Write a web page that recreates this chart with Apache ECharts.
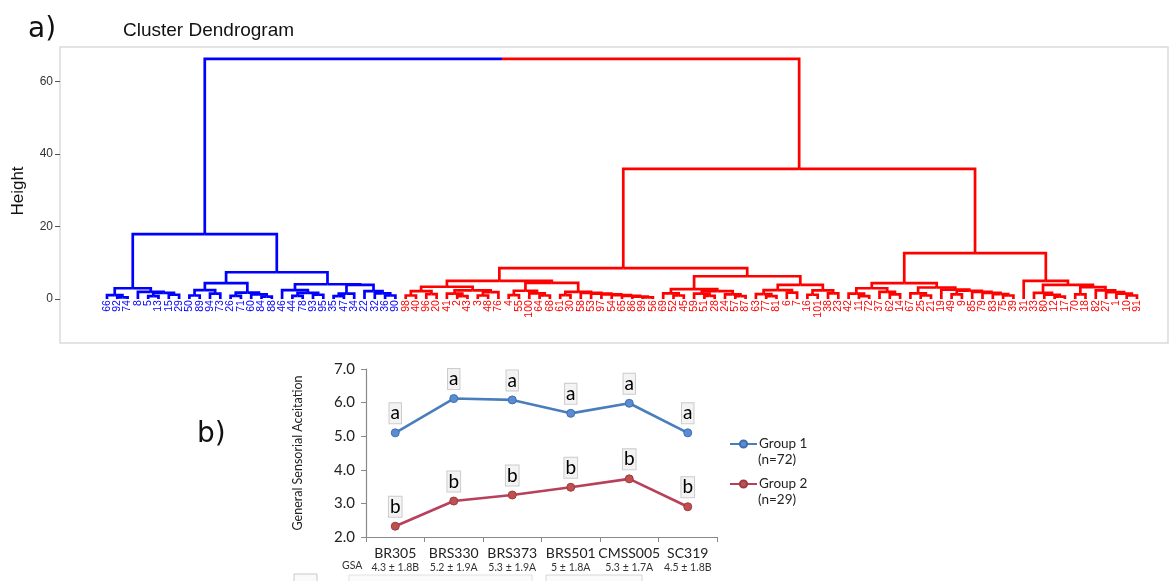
<!DOCTYPE html>
<html><head><meta charset="utf-8">
<script src="https://cdn.jsdelivr.net/npm/echarts@6/dist/echarts.min.js"></script>
<style>html,body{margin:0;padding:0;background:#fff}#c{width:1170px;height:581px}</style>
</head><body><div id="c"></div>
<script>
// ---------- a) dendrogram data: node = [mergeHeight, left, right], leaf = label ----------
const blueTree = [17.9,
  [3.0, [1.1,'66',[0.5,'92','74']], [2.0,'8',[1.7,[0.8,'5','13'],[1.2,'15','29']]]],
  [7.4,
    [4.4, [2.5,[1.0,'50','89'],[1.5,'94','73']], [1.8,[0.9,'26','71'],[1.3,'60',[0.7,'84','88']]]],
    [4.1, [2.5,'46',[1.7,[0.9,'44','78'],[1.2,'93','95']]],
          [3.9,[1.5,[0.8,'35','47'],'34'],[2.2,'22',[1.6,'32',[1.0,'36','90']]]]]]];
const redTree = [35.9,
  [8.55,
    [5.05,
      [3.4, [2.2,[1.0,'98','40'],[1.4,'96','20']], [2.4,[1.5,'41',[0.8,'2','43']],[1.9,[1.0,'3','48'],'76']]],
      [4.5, [2.3,[1.1,'4','55'],[1.6,'100',[1.0,'64','68']]],
            [2.0,[1.1,'61','30'],[1.7,'58',[1.5,'53',[1.3,'97',[1.1,'54',[0.9,'65',[0.7,'86',[0.5,'99','56']]]]]]]]]],
    [6.3,
      [2.75,[1.6,'69',[1.0,'52','45']],[2.2,[1.5,'59',[0.9,'51','28']],[1.3,'24',[0.8,'57','87']]]],
      [3.9,[2.5,[1.4,'63',[0.8,'77','81']],[1.8,'6','7']],[2.4,[1.2,'16','101'],[1.6,'38','23']]]]],
  [12.7,
    [4.4, [3.0,[1.5,'42',[0.8,'11','72']],[2.0,'37',[1.3,'62','14']]],
          [3.2,[1.6,'67',[1.0,'25','21']],[2.6,'19',[2.3,[1.3,'49','9'],[2.0,'85',[1.7,'79',[1.4,'83',[1.0,'75','39']]]]]]]],
    [5.0,'31',[3.9,[1.7,'33',[1.2,'80',[0.7,'12','17']]],[3.3,[1.3,'70','18'],[2.4,'82',[1.9,'27',[1.5,'1',[1.0,'10','91']]]]]]]]];
const rootHeight = 66.2;
const heightTicks = [0, 20, 40, 60];

// ---------- b) line chart data ----------
const categories = ['BR305','BRS330','BRS373','BRS501','CMSS005','SC319'];
const gsaLabels = ['4.3 ± 1.8B','5.2 ± 1.9A','5.3 ± 1.9A','5 ± 1.8A','5.3 ± 1.7A','4.5 ± 1.8B'];
const group1 = [5.10, 6.12, 6.08, 5.68, 5.98, 5.10];
const group2 = [2.32, 3.07, 3.25, 3.48, 3.73, 2.90];
const letters1 = ['a','a','a','a','a','a'];
const letters2 = ['b','b','b','b','b','b'];
const legendNotes = ['(n=72)','(n=29)'];

// ---------- dendrogram layout (leaf order from tree traversal) ----------
const COLS = ['#0000FF', '#FF0000'];
const leaves = [], links = [];
function lay(node, c) {
  if (typeof node === 'string') { const i = leaves.length; leaves.push({label: node, c: c}); return {x: i, h: 0}; }
  const a = lay(node[1], c), b = lay(node[2], c);
  links.push([a.x, a.h, b.x, b.h, node[0], c, c]);
  return {x: (a.x + b.x) / 2, h: node[0]};
}
const bRoot = lay(blueTree, 0), rRoot = lay(redTree, 1);
links.push([bRoot.x, bRoot.h, rRoot.x, rRoot.h, rootHeight, 0, 1]);
const N = leaves.length;
// axis extent so first leaf sits at 107px and last at 1137px inside grid 60..1168
const firstPx = 107, lastPx = 1137, gL = 60, gR = 1168;
const unit = (lastPx - firstPx) / (N - 1);
const xMin = -(firstPx - gL) / unit, xMax = (N - 1) + (gR - lastPx) / unit;

function renderLink(params, api) {
  const p1 = api.coord([api.value(0), api.value(1)]);
  const t1 = api.coord([api.value(0), api.value(4)]);
  const t2 = api.coord([api.value(2), api.value(4)]);
  const p2 = api.coord([api.value(2), api.value(3)]);
  const mx = (t1[0] + t2[0]) / 2;
  const cl = COLS[api.value(5)], cr = COLS[api.value(6)];
  return {type: 'group', children: [
    {type: 'polyline', shape: {points: [p1, t1, [mx, t1[1]]]}, style: {stroke: cl, lineWidth: 2.7, fill: null}},
    {type: 'polyline', shape: {points: [[mx, t2[1]], t2, p2]}, style: {stroke: cr, lineWidth: 2.7, fill: null}}
  ]};
}
function renderLeaf(params, api) {
  const p = api.coord([api.value(0), api.value(1)]);
  const lf = leaves[params.dataIndex];
  return {type: 'text', x: p[0], y: p[1] + 1, rotation: Math.PI / 2,
    style: {text: lf.label, fill: COLS[lf.c], font: '10.5px "Liberation Sans", Arial', align: 'right', verticalAlign: 'middle'}};
}

const chart = echarts.init(document.getElementById('c'), null, {renderer: 'canvas'});
const F = 'Lato, "Liberation Sans", sans-serif';
const letterLabel = {show: true, position: 'top', distance: 5,
  fontSize: 19, fontFamily: F, color: '#000', backgroundColor: '#f3f3f3', borderColor: '#cccccc', borderWidth: 1,
  padding: [0, 1, 0, 1], lineHeight: 20};
chart.setOption({
  animation: false,
  backgroundColor: '#ffffff',
  grid: [
    {left: 60, right: 2, top: 47, bottom: 238, show: true, borderColor: '#dadada', borderWidth: 1.5},
    {left: 366, width: 351, top: 369, height: 168}
  ],
  xAxis: [
    {gridIndex: 0, type: 'value', min: xMin, max: xMax, show: false},
    {gridIndex: 1, type: 'category', data: categories, boundaryGap: true,
     axisLine: {lineStyle: {color: '#8a8a8a', width: 1.2}},
     axisTick: {show: true, length: 5, lineStyle: {color: '#8a8a8a'}},
     axisLabel: {margin: 8, interval: 0,
       formatter: function (v, i) { return '{a|' + v + '}\n{b|' + gsaLabels[i] + '}'; },
       rich: {a: {fontSize: 14, fontFamily: F, color: '#222', lineHeight: 16},
              b: {fontSize: 10.5, fontFamily: F, color: '#333', lineHeight: 14}}}}
  ],
  yAxis: [
    {gridIndex: 0, type: 'value', min: -12.1, max: 69.5,
     axisLine: {show: false, onZero: false}, splitLine: {show: false},
     axisTick: {show: true, length: 5, customValues: heightTicks, lineStyle: {color: '#555'}},
     axisLabel: {customValues: heightTicks, fontSize: 12, color: '#333', margin: 7, fontFamily: '"Liberation Sans", Arial'}},
    {gridIndex: 1, type: 'value', min: 2, max: 7, interval: 1,
     name: 'General Sensorial Aceitation', nameLocation: 'middle', nameGap: 62, nameRotate: 90,
     nameTextStyle: {fontSize: 12.5, fontFamily: F, color: '#222'},
     axisLine: {show: true, onZero: false, lineStyle: {color: '#8a8a8a', width: 1.2}},
     axisTick: {show: true, length: 5, lineStyle: {color: '#8a8a8a'}},
     splitLine: {show: false},
     axisLabel: {fontSize: 15, fontFamily: F, color: '#222', margin: 11, formatter: function (v) { return v.toFixed(1); }}}
  ],
  legend: {
    data: ['Group 1', 'Group 2'], orient: 'vertical', left: 724, top: 432, itemGap: 26,
    itemWidth: 27, itemHeight: 9, textStyle: {fontSize: 13.5, fontFamily: F, color: '#222', padding: [0, 0, 0, -3]}
  },
  graphic: [
    {type: 'text', left: 28, top: 16, style: {text: 'a)', font: '28px "DejaVu Sans"', fill: '#111'}},
    {type: 'text', left: 123, top: 21, style: {text: 'Cluster Dendrogram', font: '19px "Liberation Sans", Arial', fill: '#111'}},
    {type: 'text', x: 18, y: 191, rotation: Math.PI / 2, style: {text: 'Height', font: '17px "Liberation Sans", Arial', fill: '#111', align: 'center', verticalAlign: 'middle'}},
    {type: 'text', left: 197, top: 421, style: {text: 'b)', font: '28px "DejaVu Sans"', fill: '#111'}},
    {type: 'text', left: 342, top: 560, style: {text: 'GSA', font: '10.5px Lato', fill: '#333'}},
    {type: 'text', left: 758, top: 453, style: {text: legendNotes[0], font: '13.5px Lato', fill: '#222'}},
    {type: 'text', left: 758, top: 493, style: {text: legendNotes[1], font: '13.5px Lato', fill: '#222'}},
    {type: 'rect', shape: {x: 294, y: 574, width: 23, height: 14}, style: {fill: '#fafafa', stroke: '#c8c8c8', lineWidth: 1}},
    {type: 'rect', shape: {x: 349, y: 575, width: 183, height: 14}, style: {fill: '#fbfbfb', stroke: '#e2e2e2', lineWidth: 1}},
    {type: 'rect', shape: {x: 546, y: 575, width: 96, height: 14}, style: {fill: '#fbfbfb', stroke: '#d6d6d6', lineWidth: 1}}
  ],
  series: [
    {type: 'custom', xAxisIndex: 0, yAxisIndex: 0, renderItem: renderLink, data: links,
     encode: {x: [0, 2], y: [1, 3, 4]}, silent: true},
    {type: 'custom', xAxisIndex: 0, yAxisIndex: 0, renderItem: renderLeaf,
     data: leaves.map(function (l, i) { return [i, 0]; }), encode: {x: 0, y: 1}, silent: true},
    {name: 'Group 1', type: 'line', xAxisIndex: 1, yAxisIndex: 1, data: group1,
     symbol: 'circle', symbolSize: 8,
     lineStyle: {color: '#4a7ebb', width: 2.6}, itemStyle: {color: '#5b8bd2', borderColor: '#3d6fae', borderWidth: 1},
     label: Object.assign({formatter: function (p) { return letters1[p.dataIndex]; }}, letterLabel)},
    {name: 'Group 2', type: 'line', xAxisIndex: 1, yAxisIndex: 1, data: group2,
     symbol: 'circle', symbolSize: 8,
     lineStyle: {color: '#b8405a', width: 2.6}, itemStyle: {color: '#c0504d', borderColor: '#9c3a48', borderWidth: 1},
     label: Object.assign({formatter: function (p) { return letters2[p.dataIndex]; }}, letterLabel)}
  ]
});
</script></body></html>
